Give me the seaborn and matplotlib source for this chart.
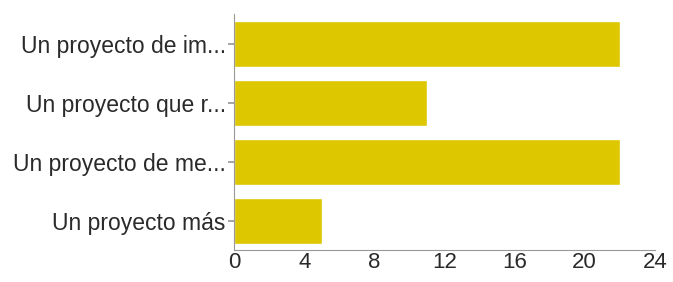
import matplotlib
matplotlib.use("Agg")
import matplotlib.pyplot as plt
import seaborn as sns
import pandas as pd

categories = ["Un proyecto de im...", "Un proyecto que r...", "Un proyecto de me...", "Un proyecto más"]
values = [22, 11, 22, 5]
xticks = [0, 4, 8, 12, 16, 20, 24]

sns.set_theme(style="white")
plt.rcParams['font.family'] = ['Liberation Sans', 'DejaVu Sans']

df = pd.DataFrame({"cat": categories, "val": values})
fig = plt.figure(figsize=(6.73, 2.82), dpi=100)
ax = fig.add_axes([0.348, 0.113, 0.625, 0.837])
sns.barplot(data=df, y="cat", x="val", color="#dcc700", saturation=1, width=0.78, ax=ax, orient="h")
ax.set_xlim(0, 24)
ax.set_xticks(xticks)
ax.set_xlabel("")
ax.set_ylabel("")
for s in ["top", "right"]:
    ax.spines[s].set_visible(False)
for s in ["left", "bottom"]:
    ax.spines[s].set_color("#999999")
    ax.spines[s].set_linewidth(0.8)
ax.tick_params(axis="x", direction="in", length=4, color="#999999", labelsize=16, labelcolor="#2a2a2a", pad=1)
ax.tick_params(axis="y", direction="out", length=4, color="#999999", labelsize=16.5, labelcolor="#2a2a2a", pad=2, left=True)
fig.savefig("out.png", dpi=100)
